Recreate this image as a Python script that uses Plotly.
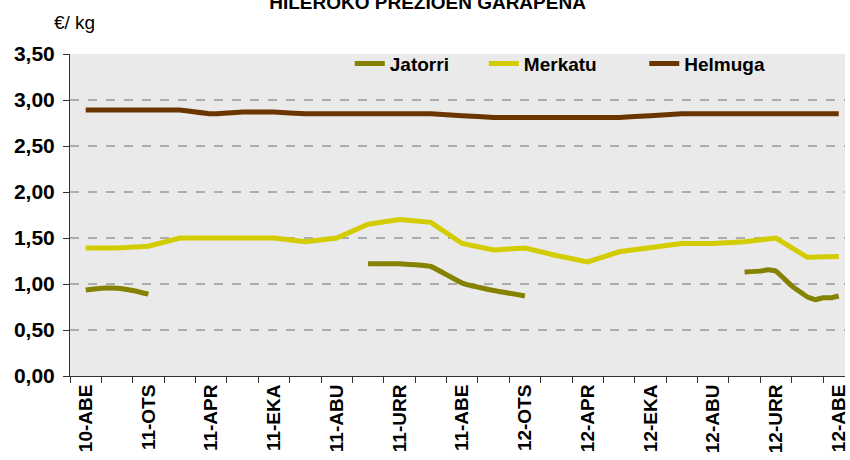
import plotly.graph_objects as go

months = ["10-ABE", "11-URT", "11-OTS", "11-MAR", "11-APR", "11-MAI", "11-EKA",
          "11-UZT", "11-ABU", "11-IRA", "11-URR", "11-AZA", "11-ABE", "12-URT",
          "12-OTS", "12-MAR", "12-APR", "12-MAI", "12-EKA", "12-UZT", "12-ABU",
          "12-IRA", "12-URR", "12-AZA", "12-ABE"]
month_idx = list(range(len(months)))
label_idx = month_idx[::2]
label_text = [months[i] for i in label_idx]

helmuga = [2.89, 2.89, 2.89, 2.89, 2.85, 2.87, 2.87, 2.85, 2.85, 2.85, 2.85, 2.85,
           2.83, 2.81, 2.81, 2.81, 2.81, 2.81, 2.83, 2.85, 2.85, 2.85, 2.85, 2.85, 2.85]
merkatu = [1.39, 1.39, 1.41, 1.50, 1.50, 1.50, 1.50, 1.46, 1.50, 1.65, 1.70, 1.67,
           1.44, 1.37, 1.39, 1.31, 1.24, 1.35, 1.39, 1.44, 1.44, 1.46, 1.50, 1.29, 1.30]

# Jatorri: three separate stretches (finer than monthly in places)
jatorri_x1 = [0, 0.5, 1, 1.5, 2]
jatorri_y1 = [0.935, 0.955, 0.955, 0.93, 0.89]
jatorri_x2 = [9, 10, 11, 12, 13, 14]
jatorri_y2 = [1.22, 1.22, 1.19, 1.01, 0.93, 0.87]
jatorri_x3 = [21, 21.5, 21.75, 22, 22.5, 23, 23.25, 23.5, 23.75, 24]
jatorri_y3 = [1.13, 1.14, 1.155, 1.14, 0.98, 0.86, 0.83, 0.85, 0.85, 0.87]

jx = jatorri_x1 + [None] + jatorri_x2 + [None] + jatorri_x3
jy = jatorri_y1 + [None] + jatorri_y2 + [None] + jatorri_y3

C_JAT = "#848200"
C_MER = "#D2CC00"
C_HEL = "#6B3500"

fig = go.Figure()
fig.add_trace(go.Scatter(x=jx, y=jy, mode="lines", name="Jatorri",
                         line=dict(color=C_JAT, width=5, shape="spline", smoothing=0.3),
                         connectgaps=False, legend="legend", showlegend=True))
fig.add_trace(go.Scatter(x=month_idx, y=merkatu, mode="lines", name="Merkatu",
                         line=dict(color=C_MER, width=5), legend="legend2", showlegend=True))
fig.add_trace(go.Scatter(x=month_idx, y=helmuga, mode="lines", name="Helmuga",
                         line=dict(color=C_HEL, width=5, shape="spline", smoothing=0.3),
                         legend="legend3", showlegend=True))

FONT = "Liberation Sans, Arial, sans-serif"
leg_common = dict(orientation="h", yanchor="middle", xanchor="left",
                  bgcolor="rgba(0,0,0,0)",
                  font=dict(family=FONT, size=19, color="#000", weight="bold"),
                  itemwidth=30)

fig.update_layout(
    width=850, height=460,
    margin=dict(l=70, r=5, t=54, b=84),
    showlegend=True,
    paper_bgcolor="white",
    plot_bgcolor="#EAEAEA",
    separators=",.",
    font=dict(family=FONT, color="#000"),
    title=dict(text="<b>HILEROKO PREZIOEN GARAPENA</b>", x=0.503, xanchor="center",
               y=0.995, yref="container", yanchor="middle",
               font=dict(family=FONT, size=19, color="#000")),
    legend=dict(x=0.361, y=0.97, **leg_common),
    legend2=dict(x=0.534, y=0.97, **leg_common),
    legend3=dict(x=0.741, y=0.97, **leg_common),
    xaxis=dict(
        range=[-0.5, 24.2], automargin=False,
        tickmode="array", tickvals=label_idx, ticktext=label_text,
        tickangle=-90, ticks="",
        tickfont=dict(family=FONT, size=19, color="#000", weight="bold"),
        showgrid=False, zeroline=False,
        showline=True, linecolor="#333", linewidth=1,
        minor=dict(tickmode="array", tickvals=[i - 0.5 for i in month_idx + [len(months)]],
                   ticks="outside", ticklen=6, tickcolor="#333", tickwidth=1, showgrid=False),
    ),
    yaxis=dict(
        range=[0, 3.5], dtick=0.5, tickformat=".2f", automargin=False,
        ticks="outside", ticklen=6, tickcolor="#333",
        tickfont=dict(family=FONT, size=21, color="#000", weight="bold"),
        ticklabelstandoff=4,
        showgrid=True, gridcolor="#ADADAD", griddash="dash", gridwidth=1.5,
        zeroline=False, showline=True, linecolor="#333", linewidth=1,
    ),
    annotations=[dict(text="€/ kg", xref="paper", yref="paper", x=-0.023, y=1.06,
                      xanchor="left", yanchor="bottom", showarrow=False,
                      font=dict(family=FONT, size=19, color="#000"))],
)

fig.write_html("out.html", config={"displayModeBar": False},
               post_script="document.body.style.margin='0px';")
